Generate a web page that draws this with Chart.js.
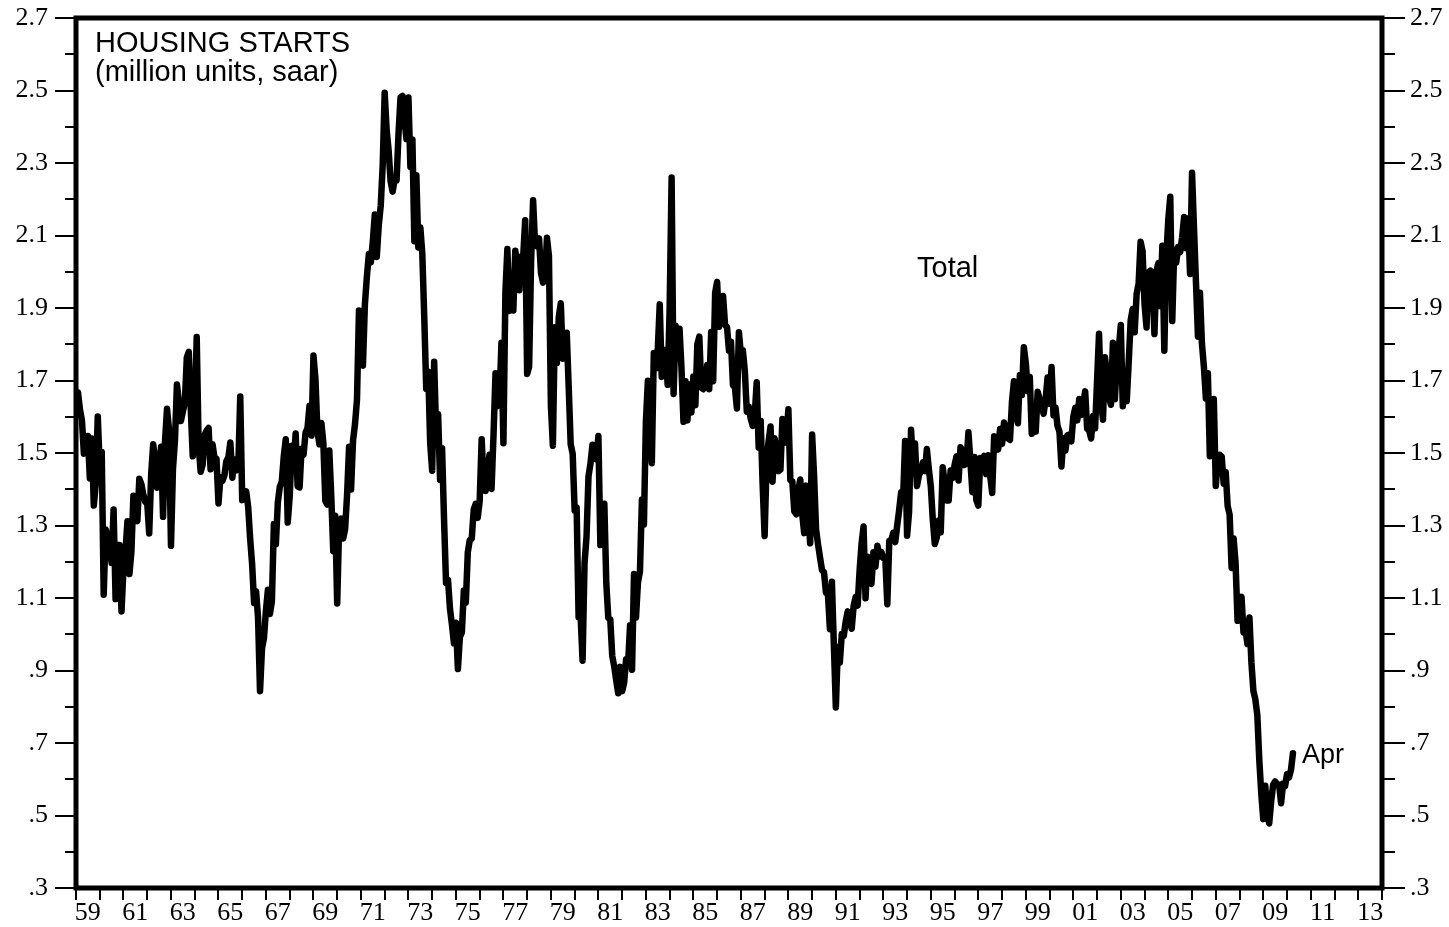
<!DOCTYPE html>
<html lang="en">
<head>
    <meta charset="UTF-8">
    <title>Housing Starts</title>
    <script src="https://cdn.jsdelivr.net/npm/chart.js"></script>
    <style>
        html, body { margin: 0; padding: 0; background: #fff; }
        .chart-container { width: 1449px; height: 927px; position: relative; }
    </style>
</head>
<body>
    <div class="chart-container">
        <canvas id="startsChart"></canvas>
    </div>

    <script>
        // monthly housing starts, thousand units (saar), starting Jan of each decade's first year
        const firstYear = 1959;
        const starts1950s = [1657, 1667, 1620, 1590, 1498, 1503, 1547, 1430, 1540, 1355, 1416, 1601];
        const starts1960s = [
            1460, 1503, 1109, 1289, 1271, 1247, 1197, 1344, 1097, 1246, 1246, 1063,
            1183, 1226, 1312, 1166, 1228, 1382, 1335, 1312, 1429, 1415, 1385, 1365,
            1361, 1278, 1443, 1524, 1483, 1404, 1450, 1517, 1324, 1533, 1622, 1564,
            1244, 1456, 1534, 1689, 1641, 1588, 1614, 1639, 1763, 1779, 1622, 1491,
            1603, 1820, 1517, 1448, 1467, 1550, 1562, 1569, 1455, 1524, 1486, 1484,
            1361, 1433, 1423, 1438, 1478, 1488, 1529, 1432, 1482, 1452, 1460, 1656,
            1370, 1378, 1394, 1352, 1265, 1194, 1086, 1119, 1046, 843, 961, 990,
            1067, 1123, 1056, 1091, 1304, 1248, 1364, 1407, 1421, 1491, 1538, 1308,
            1380, 1520, 1466, 1554, 1408, 1405, 1512, 1495, 1556, 1569, 1630, 1548,
            1769, 1705, 1561, 1524, 1583, 1528, 1368, 1358, 1507, 1381, 1229, 1327
        ];
        const starts1970s = [
            1085, 1305, 1319, 1264, 1290, 1385, 1517, 1399, 1534, 1580, 1647, 1893,
            1828, 1741, 1910, 1986, 2049, 2026, 2083, 2158, 2041, 2128, 2182, 2295,
            2494, 2390, 2334, 2249, 2221, 2254, 2252, 2382, 2481, 2485, 2421, 2366,
            2481, 2289, 2365, 2084, 2266, 2067, 2123, 2051, 1874, 1677, 1724, 1526,
            1451, 1752, 1555, 1607, 1426, 1513, 1316, 1142, 1150, 1070, 1026, 975,
            1032, 904, 993, 1005, 1121, 1087, 1226, 1260, 1264, 1344, 1360, 1321,
            1367, 1538, 1421, 1395, 1459, 1495, 1401, 1550, 1720, 1629, 1641, 1804,
            1527, 1943, 2063, 1892, 1971, 1893, 2058, 2020, 1949, 2042, 2042, 2142,
            1718, 1738, 2032, 2197, 2075, 2070, 2092, 1996, 1970, 1981, 2094, 2044,
            1630, 1520, 1847, 1748, 1876, 1913, 1760, 1778, 1832, 1681, 1524, 1498
        ];
        const starts1980s = [
            1341, 1350, 1047, 1051, 927, 1196, 1269, 1436, 1471, 1523, 1510, 1482,
            1547, 1246, 1306, 1360, 1140, 1045, 1041, 940, 911, 873, 837, 910,
            843, 866, 931, 917, 1025, 902, 1166, 1046, 1144, 1173, 1372, 1303,
            1586, 1699, 1606, 1472, 1776, 1733, 1785, 1910, 1710, 1715, 1785, 1688,
            1897, 2260, 1663, 1851, 1774, 1843, 1732, 1586, 1698, 1590, 1689, 1612,
            1711, 1632, 1800, 1821, 1680, 1676, 1684, 1743, 1676, 1834, 1698, 1942,
            1972, 1848, 1876, 1933, 1854, 1847, 1782, 1807, 1687, 1681, 1623, 1833,
            1774, 1784, 1726, 1614, 1628, 1594, 1575, 1605, 1695, 1515, 1589, 1412,
            1271, 1473, 1532, 1573, 1421, 1541, 1509, 1450, 1454, 1594, 1528, 1533,
            1621, 1425, 1422, 1339, 1331, 1397, 1427, 1332, 1279, 1410, 1351, 1251
        ];
        const starts1990s = [
            1551, 1437, 1289, 1248, 1212, 1177, 1171, 1115, 1110, 1014, 1145, 969,
            798, 965, 921, 1001, 996, 1036, 1063, 1049, 1015, 1079, 1103, 1079,
            1176, 1250, 1297, 1099, 1214, 1145, 1139, 1226, 1186, 1244, 1214, 1227,
            1210, 1210, 1083, 1258, 1260, 1280, 1254, 1300, 1343, 1392, 1376, 1533,
            1272, 1337, 1564, 1465, 1526, 1409, 1439, 1450, 1474, 1450, 1511, 1455,
            1407, 1316, 1249, 1267, 1314, 1281, 1461, 1416, 1369, 1369, 1452, 1431,
            1467, 1491, 1424, 1516, 1504, 1467, 1472, 1557, 1475, 1392, 1489, 1370,
            1355, 1486, 1457, 1492, 1442, 1494, 1437, 1390, 1546, 1520, 1510, 1566,
            1525, 1584, 1567, 1540, 1536, 1641, 1698, 1614, 1582, 1715, 1660, 1792,
            1748, 1670, 1710, 1553, 1611, 1559, 1669, 1648, 1635, 1608, 1648, 1708
        ];
        const starts2000s = [
            1636, 1737, 1604, 1626, 1575, 1559, 1463, 1541, 1507, 1549, 1551, 1532,
            1600, 1625, 1590, 1649, 1605, 1636, 1670, 1567, 1562, 1540, 1602, 1568,
            1698, 1829, 1642, 1592, 1764, 1717, 1655, 1633, 1804, 1648, 1753, 1788,
            1853, 1629, 1726, 1643, 1751, 1867, 1897, 1833, 1939, 1967, 2083, 2057,
            1911, 1846, 1998, 2003, 1981, 1828, 2002, 2024, 1905, 2072, 1782, 2042,
            2144, 2207, 1864, 2061, 2025, 2068, 2054, 2095, 2151, 2065, 2147, 1994,
            2273, 2119, 1969, 1821, 1942, 1802, 1737, 1650, 1720, 1491, 1570, 1649,
            1409, 1480, 1495, 1490, 1415, 1448, 1354, 1330, 1183, 1264, 1197, 1037,
            1084, 1103, 1005, 1013, 973, 1046, 923, 844, 820, 777, 652, 560,
            490, 582, 505, 478, 540, 585, 594, 586, 585, 534, 588, 581
        ];
        const starts2010s = [614, 605, 626, 672];

        const yTicks = [0.3, 0.4, 0.5, 0.6, 0.7, 0.8, 0.9, 1.0, 1.1, 1.2, 1.3, 1.4, 1.5,
                        1.6, 1.7, 1.8, 1.9, 2.0, 2.1, 2.2, 2.3, 2.4, 2.5, 2.6, 2.7];
        const yLabels = ['.3', '.5', '.7', '.9', '1.1', '1.3', '1.5', '1.7', '1.9', '2.1', '2.3', '2.5', '2.7'];
        const xLabelYears = [1959, 1961, 1963, 1965, 1967, 1969, 1971, 1973, 1975, 1977, 1979, 1981, 1983, 1985,
                             1987, 1989, 1991, 1993, 1995, 1997, 1999, 2001, 2003, 2005, 2007, 2009, 2011, 2013];
        const xLabels = ['59', '61', '63', '65', '67', '69', '71', '73', '75', '77', '79', '81', '83', '85',
                         '87', '89', '91', '93', '95', '97', '99', '01', '03', '05', '07', '09', '11', '13'];
        const xMin = 1959, xMax = 2014;

        const allStarts = [].concat(starts1950s, starts1960s, starts1970s, starts1980s,
                                    starts1990s, starts2000s, starts2010s);
        const points = allStarts.map((v, i) => ({ x: firstYear + i / 12, y: v / 1000 }));

        const serif = 'Liberation Serif, Times New Roman, serif';
        const sans = 'Liberation Sans, Arial, sans-serif';

        // frame, tick marks and the text notes
        const framePlugin = {
            id: 'framePlugin',
            afterDatasetsDraw(chart) {
                const { ctx, chartArea: a, scales } = chart;
                ctx.save();
                ctx.strokeStyle = '#000';
                ctx.lineWidth = 2;
                ctx.beginPath();
                yTicks.forEach((v, i) => {
                    const py = Math.round(scales.y.getPixelForValue(v));
                    const major = i % 2 === 0;
                    ctx.moveTo(a.left - (major ? 21 : 11), py);
                    ctx.lineTo(a.left, py);
                    ctx.moveTo(a.right, py);
                    ctx.lineTo(a.right + (major ? 23 : 13), py);
                });
                for (let yr = xMin; yr <= xMax; yr++) {
                    const px = Math.round(scales.x.getPixelForValue(yr));
                    ctx.moveTo(px, a.bottom);
                    ctx.lineTo(px, a.bottom + 12);
                }
                ctx.stroke();

                ctx.lineWidth = 5;
                ctx.strokeRect(a.left, a.top, a.right - a.left, a.bottom - a.top);

                ctx.fillStyle = '#000';
                ctx.textBaseline = 'alphabetic';
                ctx.textAlign = 'left';
                ctx.font = '29px ' + sans;
                ctx.fillText('HOUSING STARTS', 95, 52);
                ctx.fillText('(million units, saar)', 95, 81);
                ctx.fillText('Total', 917, 277);

                const meta = chart.getDatasetMeta(0);
                const last = meta.data[meta.data.length - 1];
                ctx.font = '27px ' + sans;
                ctx.fillText('Apr', last.x + 9, last.y + 10);
                ctx.restore();
            }
        };

        const yAxis = (position, width) => ({
            type: 'linear',
            position: position,
            min: 0.3,
            max: 2.7,
            grid: { display: false, drawTicks: false },
            border: { display: false },
            afterBuildTicks: axis => { axis.ticks = yTicks.map(v => ({ value: v })); },
            afterFit: axis => {
                axis.width = width;
                axis.paddingTop = 0;
                axis.paddingBottom = 0;
            },
            ticks: {
                autoSkip: false,
                padding: 28,
                color: '#000',
                font: { family: serif, size: 26 },
                callback: (v, i) => (i % 2 === 0 ? yLabels[i / 2] : '')
            }
        });

        const ctx = document.getElementById('startsChart').getContext('2d');
        new Chart(ctx, {
            type: 'line',
            data: {
                datasets: [{
                    label: 'Total',
                    data: points,
                    borderColor: '#000',
                    borderWidth: 6.5,
                    pointRadius: 0,
                    tension: 0,
                    borderJoinStyle: 'round',
                    borderCapStyle: 'round',
                    fill: false
                }]
            },
            options: {
                responsive: true,
                maintainAspectRatio: false,
                animation: false,
                layout: { padding: { top: 18, left: 0, right: 0, bottom: 0 } },
                plugins: {
                    legend: { display: false },
                    tooltip: { enabled: false }
                },
                scales: {
                    x: {
                        type: 'linear',
                        position: 'bottom',
                        min: xMin,
                        max: xMax,
                        grid: { display: false, drawTicks: false },
                        border: { display: false },
                        afterBuildTicks: axis => { axis.ticks = xLabelYears.map(yr => ({ value: yr + 0.5 })); },
                        afterFit: axis => {
                            axis.height = 39;
                            axis.paddingLeft = 0;
                            axis.paddingRight = 0;
                        },
                        ticks: {
                            autoSkip: false,
                            maxRotation: 0,
                            padding: 10,
                            color: '#000',
                            font: { family: serif, size: 26 },
                            callback: (v, i) => xLabels[i]
                        }
                    },
                    y: yAxis('left', 76),
                    y2: yAxis('right', 67)
                }
            },
            plugins: [framePlugin]
        });
    </script>
</body>
</html>
